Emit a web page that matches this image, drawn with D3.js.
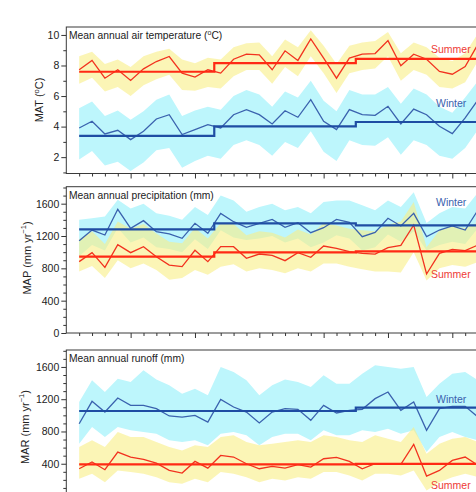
<!DOCTYPE html>
<html><head><meta charset="utf-8">
<script src="https://cdn.jsdelivr.net/npm/d3@7"></script>
<style>body{margin:0;background:#fff} svg{display:block} text{font-family:"Liberation Sans",Arial,sans-serif}</style>
</head><body><svg id="c" width="476" height="492"></svg>
<script>
const years = [1956,1957,1958,1959,1960,1961,1962,1963,1964,1965,1966,1967,1968,1969,1970,1971,1972,1973,1974,1975,1976,1977,1978,1979,1980,1981,1982,1983,1984,1985,1986,1987];
const stepYears = [1956, 1966.5, 1977.5, 1987];

// Panel 1: temperature
const sumT   = [7.72,8.33,7.17,7.72,7.02,7.78,8.26,8.59,7.5,7.24,7.72,7.5,8.41,8.74,8.70,7.72,8.96,8.33,9.74,8.48,7.17,8.48,8.74,8.78,9.63,7.98,8.74,8.41,7.61,7.43,7.93,9.4];
const sumTHi = [8.6,8.9,8.1,8.4,7.9,8.6,8.9,9.1,8.4,8.15,8.5,8.4,9.2,9.45,9.5,8.6,9.7,9.2,10.3,9.3,8.1,9.3,9.5,9.6,10.2,8.8,9.5,9.2,8.5,8.3,8.8,10.1];
const sumTLo = [6.8,7.2,6.3,6.6,6.0,6.7,7.1,7.4,6.4,6.35,6.6,6.5,7.3,7.7,7.7,6.8,7.9,7.3,8.6,7.5,6.2,7.5,7.7,7.8,8.6,7.0,7.7,7.4,6.6,6.5,6.9,8.3];
const winT   = [3.91,4.35,3.52,3.76,3.15,3.70,4.50,4.78,3.48,3.80,4.13,3.91,4.78,5.11,4.78,4.17,5.04,4.61,5.76,4.35,3.80,5.11,4.78,4.74,5.33,4.17,5.15,4.78,4.02,3.54,4.57,5.76];
const winTHi = [5.2,5.65,4.7,5.05,4.45,5.0,5.75,6.1,4.7,5.05,5.3,5.1,6.0,6.4,6.1,5.3,6.3,5.9,7.0,5.7,5.0,6.4,6.1,6.1,6.6,5.5,6.5,6.1,5.3,4.9,5.9,7.0];
const winTLo = [1.85,2.4,1.45,1.7,1.1,1.65,2.45,2.6,1.3,1.75,2.1,1.9,2.8,3.1,2.8,2.1,3.0,2.6,3.7,2.35,1.75,3.1,2.8,2.75,3.3,2.15,3.1,2.8,2.1,1.9,2.6,3.8];
const sumTMean = [7.59, 8.15, 8.43];
const winTMean = [3.39, 4.02, 4.30];

// Panel 2: precipitation
const winP   = [1142,1274,1212,1530,1295,1390,1254,1225,1171,1357,1233,1480,1377,1307,1357,1406,1307,1365,1241,1303,1406,1369,1192,1245,1419,1324,1480,1192,1274,1324,1274,1522];
const winPHi = [1400,1420,1440,1650,1540,1600,1480,1450,1400,1560,1460,1700,1640,1500,1560,1600,1520,1560,1480,1620,1640,1640,1580,1520,1640,1560,1740,1360,1480,1560,1540,1740];
const winPLo = [950,1090,1020,1300,1120,1180,1060,1040,1000,1160,1040,1270,1180,1150,1170,1200,1120,1170,1060,1120,1210,1170,1020,1060,1220,1130,1260,1020,1090,1130,1100,1300];
const sumP   = [883,994,812,1093,994,1068,944,841,821,1023,883,1068,1068,924,977,961,895,994,936,1076,1047,1006,986,977,1056,1085,1336,730,986,1035,1019,1089];
const sumPHi = [1160,1260,1100,1380,1290,1350,1230,1130,1110,1300,1170,1360,1350,1210,1260,1240,1180,1280,1220,1360,1330,1290,1270,1260,1340,1380,1620,1060,1270,1320,1300,1370];
const sumPLo = [760,830,680,900,800,860,780,660,680,780,720,820,850,760,800,780,740,800,760,860,860,820,790,760,760,750,1000,650,800,840,820,880];
const winPMean = [1283, 1357, 1332];
const sumPMean = [944, 998, 1010];

// Panel 3: runoff
const winR   = [896,1174,1041,1215,1124,1124,1083,992,979,1000,917,1198,1103,1041,905,1041,1083,1074,938,1124,1029,1062,1074,1207,1289,1062,1165,814,1083,1112,1112,979];
const winRHi = [1165,1434,1289,1455,1414,1558,1443,1372,1269,1331,1248,1600,1538,1434,1248,1372,1443,1414,1352,1496,1393,1393,1517,1620,1600,1579,1600,1227,1393,1517,1538,1434];
const winRLo = [648,855,731,855,814,793,772,690,669,690,628,772,793,752,628,731,772,772,690,814,752,752,814,793,834,772,814,545,731,793,731,690];
const sumR   = [338,421,326,545,483,454,408,317,284,429,346,503,483,400,338,367,346,388,359,462,479,429,338,400,392,392,640,247,317,441,483,379];
const sumRHi = [607,690,607,793,731,731,669,607,565,628,607,731,752,669,628,648,669,690,669,752,731,690,669,752,710,669,855,524,648,710,731,669];
const sumRLo = [214,276,172,317,297,276,234,172,152,214,172,297,276,234,172,214,193,234,214,297,297,255,193,276,276,255,317,69,172,234,276,234];
const winRMean = [1054, 1054, 1095];
const sumRMean = [392, 392, 398];

const tTicks = [2,4,6,8,10];
const tMinor = [1,3,5,7,9];
const pTicks = [0,400,800,1200,1600];
const rTicks = [400,800,1200,1600];
const pMinor = [100,200,300,500,600,700,900,1000,1100,1300,1400,1500,1700,1800];
const xMajor = [1960,1965,1970,1975,1980,1985];

const RED = "#f2321f", RED_MEAN = "#ff2a14", BLUE = "#3a62ae", BLUE_MEAN = "#1f4da3";
const CYAN = "#bdf6fc", YELLOW = "#f9ef86";

const svg = d3.select("#c");
const x = d3.scaleLinear().domain([1955, 1990]).range([66.3, 66.3 + 35 * 12.867]);

const panels = [
  {top: 27, bottom: 173.5, dom: [0.93, 10.52], ticks: tTicks, minor: tMinor,
   title: ["Mean annual air temperature (", "o", "C)"], ylab: "MAT", ylabC: 100, ylabX: 43, unitT: true,
   win: [winT, winTHi, winTLo, winTMean], sum: [sumT, sumTHi, sumTLo, sumTMean],
   winLab: 106.5, sumLab: 53, xaxis: true},
  {top: 186.7, bottom: 333, dom: [0, 1810], ticks: pTicks, minor: pMinor,
   title: ["Mean annual precipitation (mm)"], ylab: "MAP", ylabC: 258, ylabX: 31,
   win: [winP, winPHi, winPLo, winPMean], sum: [sumP, sumPHi, sumPLo, sumPMean],
   winLab: 205.5, sumLab: 278, xaxis: true},
  {top: 350, bottom: 496, dom: [0, 1810], ticks: rTicks, minor: pMinor,
   title: ["Mean annual runoff (mm)"], ylab: "MAR", ylabC: 427, ylabX: 29,
   win: [winR, winRHi, winRLo, winRMean], sum: [sumR, sumRHi, sumRLo, sumRMean],
   winLab: 403, sumLab: 489, xaxis: false}
];

panels.forEach(p => {
  const y = d3.scaleLinear().domain(p.dom).range([p.bottom, p.top]);
  const g = svg.append("g");
  const area = (hi, lo) => d3.area().x((d, i) => x(years[i])).y0((d, i) => y(lo[i])).y1((d, i) => y(hi[i]))(hi);
  const line = d3.line().x((d, i) => x(years[i])).y(d => y(d));
  const meanLine = m => d3.line().x(d => x(d[0])).y(d => y(d[1])).curve(d3.curveStepAfter)(
      [[stepYears[0], m[0]], [stepYears[1], m[1]], [stepYears[2], m[2]], [stepYears[3], m[2]]]);

  g.append("path").attr("d", area(p.win[1], p.win[2])).attr("fill", CYAN);
  g.append("path").attr("d", area(p.sum[1], p.sum[2])).attr("fill", YELLOW).attr("fill-opacity", 0.6);

  g.append("path").attr("d", line(p.win[0])).attr("fill", "none").attr("stroke", BLUE).attr("stroke-width", 1.3);
  g.append("path").attr("d", line(p.sum[0])).attr("fill", "none").attr("stroke", RED).attr("stroke-width", 1.3);
  g.append("path").attr("d", meanLine(p.win[3])).attr("fill", "none").attr("stroke", BLUE_MEAN).attr("stroke-width", 2.2);
  g.append("path").attr("d", meanLine(p.sum[3])).attr("fill", "none").attr("stroke", RED_MEAN).attr("stroke-width", 2.2);

  // frame
  g.append("rect").attr("x", 66.3).attr("y", p.top).attr("width", 520).attr("height", p.bottom - p.top)
    .attr("fill", "none").attr("stroke", "#3a3a3a").attr("stroke-width", 1);

  // y axis
  const ya = g.append("g").attr("transform", "translate(66.3,0)")
    .call(d3.axisLeft(y).tickValues(p.ticks).tickSize(5).tickPadding(2).tickFormat(d3.format("d")));
  ya.select(".domain").remove();
  ya.selectAll("text").attr("font-size", 10.5).attr("fill", "#222").style("font-family", "Liberation Sans, Arial, sans-serif");
  ya.selectAll("line").attr("stroke", "#333");
  const ym = g.append("g").attr("transform", "translate(66.3,0)")
    .call(d3.axisLeft(y).tickValues(p.minor.filter(v => y(v) >= p.top && y(v) <= p.bottom)).tickSize(3).tickFormat(""));
  ym.select(".domain").remove();
  ym.selectAll("line").attr("stroke", "#333");
  if (!p.xaxis) {
    g.append("g").attr("transform", "translate(66.3,0)")
      .call(d3.axisLeft(y).tickValues([0]).tickSize(5).tickFormat(""))
      .call(s => { s.select(".domain").remove(); s.selectAll("line").attr("stroke", "#333"); });
  }

  if (p.xaxis) {
    const xa = g.append("g").attr("transform", `translate(0,${p.bottom})`)
      .call(d3.axisBottom(x).tickValues(years.filter(v => !xMajor.includes(v))).tickSize(3).tickFormat(""));
    xa.select(".domain").remove();
    xa.selectAll("line").attr("stroke", "#333");
    const xb = g.append("g").attr("transform", `translate(0,${p.bottom})`)
      .call(d3.axisBottom(x).tickValues(xMajor).tickSize(5).tickFormat(""));
    xb.select(".domain").remove();
    xb.selectAll("line").attr("stroke", "#333");
  }

  // title
  const t = g.append("text").attr("x", 69).attr("y", p.top + 12).attr("font-size", 10.3).attr("fill", "#222");
  t.append("tspan").text(p.title[0]);
  if (p.title.length > 1) {
    t.append("tspan").text(p.title[1]).attr("font-size", 7).attr("dy", -4);
    t.append("tspan").text(p.title[2]).attr("dy", 4);
  }

  // y label
  const yl = g.append("text").attr("transform", `translate(${p.ylabX},${p.ylabC}) rotate(-90)`)
    .attr("text-anchor", "middle").attr("font-size", 11).attr("fill", "#222");
  if (p.unitT) {
    yl.append("tspan").text(p.ylab + " (");
    yl.append("tspan").text("o").attr("font-size", 7.5).attr("dy", -4);
    yl.append("tspan").text("C)").attr("dy", 4);
  } else {
    yl.append("tspan").text(p.ylab + " (mm yr");
    yl.append("tspan").text("\u22121").attr("font-size", 7.5).attr("dy", -5);
    yl.append("tspan").text(")").attr("dy", 5);
  }

  g.append("text").attr("x", 436).attr("y", p.winLab).attr("font-size", 10.5).attr("fill", BLUE).text("Winter");
  g.append("text").attr("x", 431).attr("y", p.sumLab).attr("font-size", 10.5).attr("fill", "#ee3b36").text("Summer");
});
</script></body></html>
